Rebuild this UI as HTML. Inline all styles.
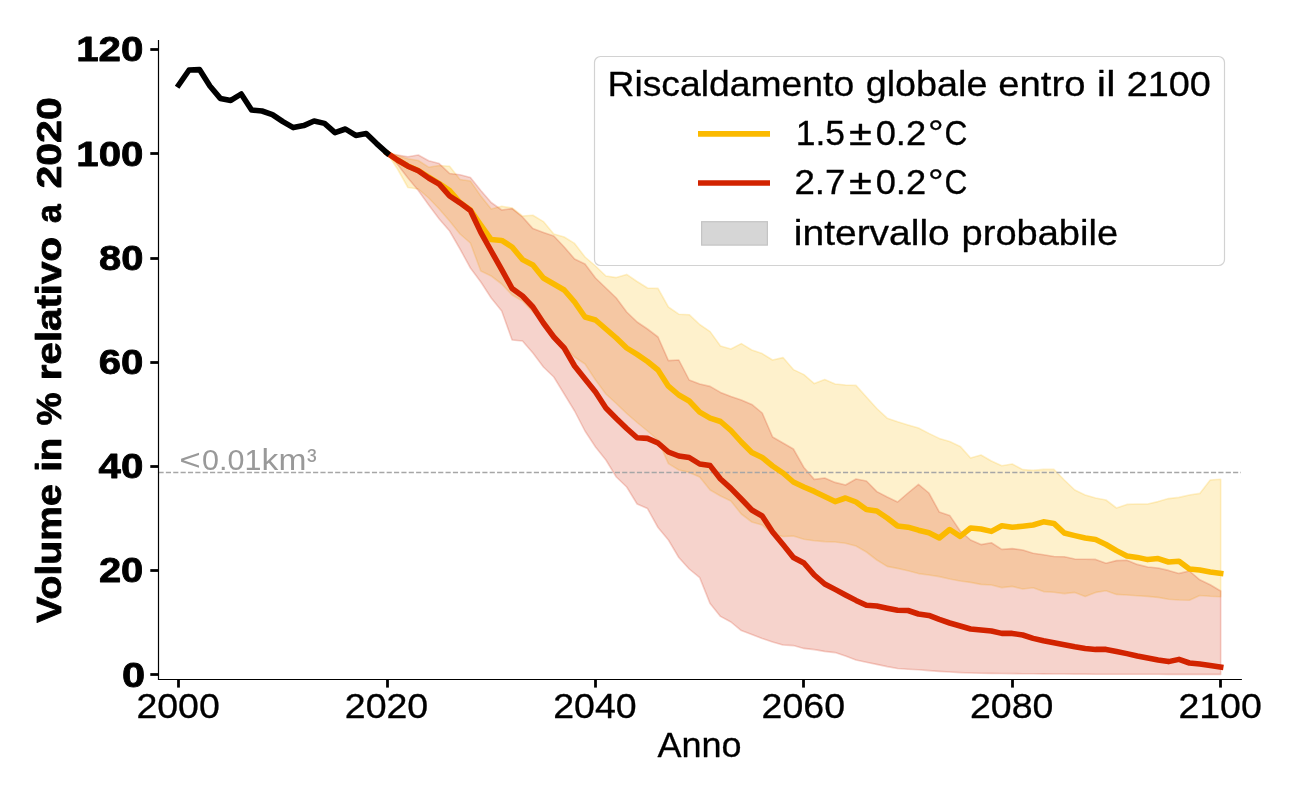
<!DOCTYPE html>
<html><head><meta charset="utf-8"><title>Volume</title>
<style>html,body{margin:0;padding:0;background:#fff}svg{display:block;will-change:transform}</style></head>
<body>
<svg width="1300" height="800" viewBox="0 0 1300 800" font-family="'Liberation Sans', sans-serif" fill="#000">
<rect width="1300" height="800" fill="#fff"/>
<!-- probable ranges -->
<path d="M387.1,153.0 L397.5,155.5 L407.9,158.8 L418.3,160.5 L428.7,167.2 L439.2,165.5 L449.6,166.2 L460.0,179.5 L470.4,181.0 L480.8,196.0 L491.2,209.0 L501.7,206.2 L512.1,208.0 L522.5,216.0 L532.9,215.2 L543.4,221.6 L553.8,234.0 L564.2,237.0 L574.6,243.4 L585.0,257.0 L595.5,266.0 L605.9,276.0 L616.3,277.6 L626.7,274.4 L637.1,281.5 L647.5,288.0 L658.0,288.4 L668.4,307.0 L678.8,314.2 L689.2,314.7 L699.7,324.5 L710.1,331.6 L720.5,346.0 L730.9,349.0 L741.3,343.6 L751.8,350.0 L762.2,353.6 L772.6,360.0 L783.0,357.6 L793.4,369.6 L803.9,374.6 L814.3,383.6 L824.7,379.6 L835.1,384.0 L845.5,385.0 L856.0,385.4 L866.4,397.0 L876.8,408.5 L887.2,418.2 L897.6,421.8 L908.0,425.0 L918.5,428.0 L928.9,433.4 L939.3,438.4 L949.7,441.6 L960.2,446.4 L970.6,458.0 L981.0,455.0 L991.4,461.0 L1001.8,465.8 L1012.2,464.0 L1022.7,469.6 L1033.1,470.4 L1043.5,469.4 L1053.9,469.4 L1064.3,480.0 L1074.8,490.0 L1085.2,495.0 L1095.6,498.0 L1106.0,500.0 L1116.5,508.0 L1126.9,504.4 L1137.3,504.0 L1147.7,504.0 L1158.1,501.6 L1168.5,498.6 L1179.0,497.4 L1189.4,495.0 L1199.8,493.4 L1210.2,480.0 L1220.7,479.2 L1220.7,596.8 L1210.2,596.3 L1199.8,595.5 L1189.4,600.2 L1179.0,600.0 L1168.5,599.2 L1158.1,597.4 L1147.7,596.4 L1137.3,595.8 L1126.9,595.0 L1116.5,594.4 L1106.0,590.8 L1095.6,592.4 L1085.2,596.4 L1074.8,592.4 L1064.3,593.6 L1053.9,592.2 L1043.5,591.6 L1033.1,587.8 L1022.7,589.0 L1012.2,586.4 L1001.8,587.6 L991.4,585.0 L981.0,584.4 L970.6,582.4 L960.2,581.0 L949.7,579.0 L939.3,576.6 L928.9,575.0 L918.5,573.6 L908.0,570.8 L897.6,568.4 L887.2,566.4 L876.8,560.0 L866.4,552.0 L856.0,546.0 L845.5,543.2 L835.1,542.0 L824.7,541.6 L814.3,540.8 L803.9,539.2 L793.4,536.0 L783.0,536.5 L772.6,534.0 L762.2,525.0 L751.8,522.0 L741.3,514.0 L730.9,501.0 L720.5,496.0 L710.1,490.0 L699.7,477.0 L689.2,472.4 L678.8,470.0 L668.4,463.6 L658.0,440.0 L647.5,431.0 L637.1,422.5 L626.7,413.5 L616.3,403.5 L605.9,394.0 L595.5,380.0 L585.0,364.0 L574.6,357.0 L564.2,346.0 L553.8,335.0 L543.4,323.0 L532.9,312.0 L522.5,301.0 L512.1,295.0 L501.7,284.0 L491.2,276.0 L480.8,271.0 L470.4,243.0 L460.0,234.0 L449.6,221.0 L439.2,209.0 L428.7,198.0 L418.3,189.0 L407.9,187.5 L397.5,169.0 L387.1,153.0Z" fill="#FBBA00" fill-opacity="0.2" stroke="#FBBA00" stroke-opacity="0.2" stroke-width="1.6" stroke-linejoin="round"/>
<path d="M387.1,153.0 L397.5,155.0 L407.9,156.8 L418.3,155.0 L428.7,160.7 L439.2,163.6 L449.6,173.5 L460.0,174.8 L470.4,177.5 L480.8,190.5 L491.2,202.5 L501.7,210.0 L512.1,208.6 L522.5,217.0 L532.9,228.6 L543.4,232.4 L553.8,236.0 L564.2,247.0 L574.6,259.0 L585.0,264.0 L595.5,278.0 L605.9,288.0 L616.3,298.0 L626.7,312.0 L637.1,322.0 L647.5,329.0 L658.0,337.0 L668.4,360.6 L678.8,360.0 L689.2,380.0 L699.7,384.0 L710.1,386.4 L720.5,392.4 L730.9,396.4 L741.3,400.0 L751.8,404.4 L762.2,413.0 L772.6,437.0 L783.0,443.0 L793.4,449.0 L803.9,467.5 L814.3,479.4 L824.7,478.0 L835.1,482.4 L845.5,485.0 L856.0,479.0 L866.4,481.0 L876.8,491.6 L887.2,497.0 L897.6,502.0 L908.0,493.0 L918.5,484.4 L928.9,493.0 L939.3,512.0 L949.7,515.4 L960.2,531.0 L970.6,540.0 L981.0,544.6 L991.4,542.8 L1001.8,549.4 L1012.2,548.6 L1022.7,550.0 L1033.1,553.3 L1043.5,554.7 L1053.9,556.5 L1064.3,556.8 L1074.8,559.0 L1085.2,559.2 L1095.6,559.4 L1106.0,563.2 L1116.5,560.6 L1126.9,560.2 L1137.3,564.4 L1147.7,567.0 L1158.1,568.0 L1168.5,570.4 L1179.0,573.4 L1189.4,571.0 L1199.8,579.8 L1210.2,584.7 L1220.7,591.0 L1220.7,674.4 L1210.2,674.4 L1199.8,674.4 L1189.4,674.4 L1179.0,674.4 L1168.5,674.4 L1158.1,674.3 L1147.7,674.3 L1137.3,674.3 L1126.9,674.3 L1116.5,674.2 L1106.0,674.2 L1095.6,674.2 L1085.2,674.1 L1074.8,674.1 L1064.3,674.0 L1053.9,674.0 L1043.5,673.9 L1033.1,673.8 L1022.7,673.7 L1012.2,673.6 L1001.8,673.5 L991.4,673.4 L981.0,673.2 L970.6,673.0 L960.2,672.6 L949.7,672.0 L939.3,671.4 L928.9,670.6 L918.5,669.8 L908.0,669.2 L897.6,668.5 L887.2,666.6 L876.8,664.4 L866.4,662.2 L856.0,660.0 L845.5,656.0 L835.1,652.6 L824.7,651.4 L814.3,649.6 L803.9,648.4 L793.4,645.6 L783.0,645.0 L772.6,642.0 L762.2,638.4 L751.8,634.4 L741.3,630.6 L730.9,622.0 L720.5,616.4 L710.1,603.6 L699.7,577.6 L689.2,569.0 L678.8,557.5 L668.4,540.0 L658.0,527.5 L647.5,508.6 L637.1,504.0 L626.7,487.0 L616.3,477.0 L605.9,460.0 L595.5,447.0 L585.0,431.0 L574.6,411.0 L564.2,394.0 L553.8,377.0 L543.4,367.0 L532.9,353.0 L522.5,341.0 L512.1,340.0 L501.7,311.0 L491.2,298.0 L480.8,282.0 L470.4,268.0 L460.0,249.0 L449.6,231.0 L439.2,219.0 L428.7,205.0 L418.3,190.5 L407.9,178.0 L397.5,164.5 L387.1,153.0Z" fill="#D22300" fill-opacity="0.2" stroke="#D22300" stroke-opacity="0.2" stroke-width="1.6" stroke-linejoin="round"/>
<line x1="158.5" y1="472.5" x2="1241" y2="472.5" stroke="#a6a6a6" stroke-width="1.3" stroke-dasharray="5.14 2.22"/>
<!-- median lines -->
<path d="M387.1,153.0 L397.5,160.0 L407.9,166.0 L418.3,170.5 L428.7,177.0 L439.2,183.6 L449.6,190.6 L460.0,202.5 L470.4,210.0 L480.8,225.0 L491.2,239.6 L501.7,240.4 L512.1,247.0 L522.5,259.6 L532.9,265.0 L543.4,278.0 L553.8,284.0 L564.2,290.0 L574.6,302.0 L585.0,317.0 L595.5,320.0 L605.9,329.0 L616.3,338.0 L626.7,348.0 L637.1,354.4 L647.5,361.5 L658.0,370.0 L668.4,386.2 L678.8,395.0 L689.2,401.0 L699.7,412.2 L710.1,418.2 L720.5,421.5 L730.9,430.5 L741.3,442.0 L751.8,452.5 L762.2,457.5 L772.6,466.0 L783.0,473.0 L793.4,482.0 L803.9,487.0 L814.3,491.4 L824.7,496.4 L835.1,501.6 L845.5,498.0 L856.0,502.0 L866.4,509.6 L876.8,511.0 L887.2,518.0 L897.6,526.0 L908.0,527.2 L918.5,530.2 L928.9,532.7 L939.3,538.0 L949.7,529.5 L960.2,536.3 L970.6,528.0 L981.0,529.0 L991.4,531.4 L1001.8,525.7 L1012.2,527.3 L1022.7,526.2 L1033.1,525.0 L1043.5,521.8 L1053.9,523.4 L1064.3,533.0 L1074.8,535.6 L1085.2,538.0 L1095.6,539.5 L1106.0,544.5 L1116.5,550.6 L1126.9,556.0 L1137.3,557.4 L1147.7,559.6 L1158.1,558.6 L1168.5,562.0 L1179.0,561.2 L1189.4,569.0 L1199.8,570.0 L1210.2,572.0 L1220.7,573.4" fill="none" stroke="#FBBA00" stroke-width="5.56" stroke-linejoin="round" stroke-linecap="square"/>
<path d="M387.1,153.0 L397.5,160.0 L407.9,166.2 L418.3,170.8 L428.7,178.0 L439.2,184.2 L449.6,196.0 L460.0,202.8 L470.4,210.5 L480.8,232.4 L491.2,251.0 L501.7,269.6 L512.1,288.5 L522.5,296.0 L532.9,307.0 L543.4,323.0 L553.8,337.0 L564.2,348.0 L574.6,366.0 L585.0,379.0 L595.5,392.0 L605.9,408.0 L616.3,418.5 L626.7,428.5 L637.1,437.8 L647.5,438.4 L658.0,443.0 L668.4,452.0 L678.8,456.0 L689.2,457.5 L699.7,464.0 L710.1,465.6 L720.5,479.0 L730.9,488.4 L741.3,499.0 L751.8,510.0 L762.2,516.0 L772.6,532.0 L783.0,544.5 L793.4,557.5 L803.9,563.0 L814.3,575.0 L824.7,584.0 L835.1,589.4 L845.5,595.0 L856.0,600.4 L866.4,605.2 L876.8,606.0 L887.2,608.2 L897.6,610.2 L908.0,610.5 L918.5,614.0 L928.9,615.4 L939.3,619.4 L949.7,623.0 L960.2,626.0 L970.6,629.0 L981.0,630.0 L991.4,631.0 L1001.8,633.4 L1012.2,633.4 L1022.7,635.0 L1033.1,638.4 L1043.5,640.8 L1053.9,642.8 L1064.3,644.8 L1074.8,646.8 L1085.2,648.5 L1095.6,649.4 L1106.0,649.4 L1116.5,651.4 L1126.9,653.6 L1137.3,656.0 L1147.7,658.0 L1158.1,660.0 L1168.5,661.6 L1179.0,659.4 L1189.4,663.0 L1199.8,664.0 L1210.2,665.4 L1220.7,667.0" fill="none" stroke="#D22300" stroke-width="5.56" stroke-linejoin="round" stroke-linecap="square"/>
<path d="M178.7,85.0 L189.1,70.0 L199.5,69.6 L209.9,86.0 L220.3,98.4 L230.8,100.4 L241.2,94.0 L251.6,110.0 L262.0,111.0 L272.4,114.6 L282.9,121.6 L293.3,127.6 L303.7,125.6 L314.1,121.0 L324.5,123.4 L335.0,132.6 L345.4,129.0 L355.8,135.4 L366.2,133.6 L376.6,143.6 L387.1,153.0" fill="none" stroke="#000" stroke-width="5.56" stroke-linejoin="round" stroke-linecap="square"/>
<!-- axes -->
<path d="M158.5,40.6 V679.5 H1241.3" fill="none" stroke="#000" stroke-width="1.2" stroke-linecap="square"/>
<line x1="150.3" x2="158.5" y1="674.50" y2="674.50" stroke="#000" stroke-width="2.78"/>
<text transform="translate(122.12,686.50) scale(1.1973,1)" font-size="34.70" font-weight="bold" stroke="#000" stroke-width="0.8" stroke-linejoin="round">0</text>
<line x1="150.3" x2="158.5" y1="570.50" y2="570.50" stroke="#000" stroke-width="2.78"/>
<text transform="translate(98.91,582.32) scale(1.1508,1)" font-size="34.70" font-weight="bold" stroke="#000" stroke-width="0.8" stroke-linejoin="round">20</text>
<line x1="150.3" x2="158.5" y1="466.50" y2="466.50" stroke="#000" stroke-width="2.78"/>
<text transform="translate(98.56,478.13) scale(1.1601,1)" font-size="34.70" font-weight="bold" stroke="#000" stroke-width="0.8" stroke-linejoin="round">40</text>
<line x1="150.3" x2="158.5" y1="362.50" y2="362.50" stroke="#000" stroke-width="2.78"/>
<text transform="translate(98.66,373.95) scale(1.1576,1)" font-size="34.70" font-weight="bold" stroke="#000" stroke-width="0.8" stroke-linejoin="round">60</text>
<line x1="150.3" x2="158.5" y1="258.50" y2="258.50" stroke="#000" stroke-width="2.78"/>
<text transform="translate(98.96,269.76) scale(1.1494,1)" font-size="34.70" font-weight="bold" stroke="#000" stroke-width="0.8" stroke-linejoin="round">80</text>
<line x1="150.3" x2="158.5" y1="153.50" y2="153.50" stroke="#000" stroke-width="2.78"/>
<text transform="translate(76.35,165.58) scale(1.1578,1)" font-size="34.70" font-weight="bold" stroke="#000" stroke-width="0.8" stroke-linejoin="round">100</text>
<line x1="150.3" x2="158.5" y1="49.50" y2="49.50" stroke="#000" stroke-width="2.78"/>
<text transform="translate(76.15,61.40) scale(1.1614,1)" font-size="34.70" font-weight="bold" stroke="#000" stroke-width="0.8" stroke-linejoin="round">120</text>
<line x1="178.50" x2="178.50" y1="679.5" y2="687.6" stroke="#000" stroke-width="2.78"/>
<text transform="translate(136.39,718.10) scale(1.0936,1)" font-size="34.30" stroke="#000" stroke-width="0.3" stroke-linejoin="round">2000</text>
<line x1="387.50" x2="387.50" y1="679.5" y2="687.6" stroke="#000" stroke-width="2.78"/>
<text transform="translate(344.79,718.10) scale(1.0936,1)" font-size="34.30" stroke="#000" stroke-width="0.3" stroke-linejoin="round">2020</text>
<line x1="595.50" x2="595.50" y1="679.5" y2="687.6" stroke="#000" stroke-width="2.78"/>
<text transform="translate(553.19,718.10) scale(1.0936,1)" font-size="34.30" stroke="#000" stroke-width="0.3" stroke-linejoin="round">2040</text>
<line x1="803.50" x2="803.50" y1="679.5" y2="687.6" stroke="#000" stroke-width="2.78"/>
<text transform="translate(761.59,718.10) scale(1.0936,1)" font-size="34.30" stroke="#000" stroke-width="0.3" stroke-linejoin="round">2060</text>
<line x1="1012.50" x2="1012.50" y1="679.5" y2="687.6" stroke="#000" stroke-width="2.78"/>
<text transform="translate(969.99,718.10) scale(1.0936,1)" font-size="34.30" stroke="#000" stroke-width="0.3" stroke-linejoin="round">2080</text>
<line x1="1220.50" x2="1220.50" y1="679.5" y2="687.6" stroke="#000" stroke-width="2.78"/>
<text transform="translate(1178.39,718.10) scale(1.0936,1)" font-size="34.30" stroke="#000" stroke-width="0.3" stroke-linejoin="round">2100</text>
<text transform="translate(657.55,757.00) scale(1.0110,1)" font-size="35.60" stroke="#000" stroke-width="0.3" stroke-linejoin="round">Anno</text>
<!-- y label -->
<text transform="translate(60.80,622.74) rotate(-90) scale(1.1321,1)" font-size="34.60" font-weight="bold" stroke="#000" stroke-width="0.8" stroke-linejoin="round">Volume</text>
<text transform="translate(60.80,471.85) rotate(-90) scale(1.1146,1)" font-size="34.60" font-weight="bold" stroke="#000" stroke-width="0.8" stroke-linejoin="round">in</text>
<text transform="translate(60.80,425.50) rotate(-90) scale(1.0715,1)" font-size="34.60" font-weight="bold" stroke="#000" stroke-width="0.8" stroke-linejoin="round">%</text>
<text transform="translate(60.80,380.15) rotate(-90) scale(1.1633,1)" font-size="34.60" font-weight="bold" stroke="#000" stroke-width="0.8" stroke-linejoin="round">relativo</text>
<text transform="translate(60.80,223.05) rotate(-90) scale(0.9752,1)" font-size="34.60" font-weight="bold" stroke="#000" stroke-width="0.8" stroke-linejoin="round">a</text>
<text transform="translate(60.80,188.56) rotate(-90) scale(1.1863,1)" font-size="34.60" font-weight="bold" stroke="#000" stroke-width="0.8" stroke-linejoin="round">2020</text>
<!-- annotation -->
<text transform="translate(179.14,470.40) scale(1.2396,1)" font-size="29.80" fill="#999">&lt;</text>
<text transform="translate(202.03,469.80) scale(1.0238,1)" font-size="29.80" fill="#999">0.01</text>
<text transform="translate(261.62,469.80) scale(1.1432,1)" font-size="29.40" fill="#999">km</text>
<text transform="translate(307.11,469.80) scale(0.9682,1)" font-size="29.80" fill="#999">³</text>
<!-- legend -->
<rect x="594.5" y="56.5" width="630" height="209" rx="6" ry="6" fill="#fff" fill-opacity="0.8" stroke="#d2d2d2" stroke-width="1.2"/>
<text transform="translate(607.47,95.70) scale(1.0483,1)" font-size="35.60" stroke="#000" stroke-width="0.3" stroke-linejoin="round">Riscaldamento</text>
<text transform="translate(865.65,95.70) scale(1.0618,1)" font-size="35.60" stroke="#000" stroke-width="0.3" stroke-linejoin="round">globale</text>
<text transform="translate(998.33,95.70) scale(1.0735,1)" font-size="35.60" stroke="#000" stroke-width="0.3" stroke-linejoin="round">entro</text>
<text transform="translate(1096.86,95.70) scale(1.1725,1)" font-size="35.60" stroke="#000" stroke-width="0.3" stroke-linejoin="round">il</text>
<text transform="translate(1126.67,95.70) scale(1.1031,1)" font-size="34.30" stroke="#000" stroke-width="0.3" stroke-linejoin="round">2100</text>
<line x1="698" x2="770" y1="133.9" y2="133.9" stroke="#FBBA00" stroke-width="5.56"/>
<line x1="698" x2="770" y1="183" y2="183" stroke="#D22300" stroke-width="5.56"/>
<rect x="701.6" y="221.7" width="65.8" height="23.4" fill="#d6d6d6" stroke="#c4c4c4" stroke-width="1.2"/>
<text transform="translate(795.69,144.60) scale(1.0356,1)" font-size="34.30" stroke="#000" stroke-width="0.3" stroke-linejoin="round">1.5</text>
<text transform="translate(848.93,144.60) scale(1.2159,1)" font-size="34.30" stroke="#000" stroke-width="0.3" stroke-linejoin="round">±</text>
<text transform="translate(875.69,144.60) scale(1.0586,1)" font-size="34.30" stroke="#000" stroke-width="0.3" stroke-linejoin="round">0.2</text>
<text transform="translate(928.12,144.60) scale(1.1410,1)" font-size="34.30" stroke="#000" stroke-width="0.3" stroke-linejoin="round">°</text>
<text transform="translate(944.55,144.60) scale(0.9239,1)" font-size="34.30" stroke="#000" stroke-width="0.3" stroke-linejoin="round">C</text>
<text transform="translate(794.42,194.40) scale(1.0708,1)" font-size="34.30" stroke="#000" stroke-width="0.3" stroke-linejoin="round">2.7</text>
<text transform="translate(848.93,194.40) scale(1.2159,1)" font-size="34.30" stroke="#000" stroke-width="0.3" stroke-linejoin="round">±</text>
<text transform="translate(875.69,194.40) scale(1.0586,1)" font-size="34.30" stroke="#000" stroke-width="0.3" stroke-linejoin="round">0.2</text>
<text transform="translate(928.12,194.40) scale(1.1410,1)" font-size="34.30" stroke="#000" stroke-width="0.3" stroke-linejoin="round">°</text>
<text transform="translate(944.55,194.40) scale(0.9239,1)" font-size="34.30" stroke="#000" stroke-width="0.3" stroke-linejoin="round">C</text>
<text transform="translate(793.83,244.50) scale(1.1070,1)" font-size="35.20" stroke="#000" stroke-width="0.3" stroke-linejoin="round">intervallo</text>
<text transform="translate(961.59,244.50) scale(1.0809,1)" font-size="35.20" stroke="#000" stroke-width="0.3" stroke-linejoin="round">probabile</text>
</svg>
</body></html>
